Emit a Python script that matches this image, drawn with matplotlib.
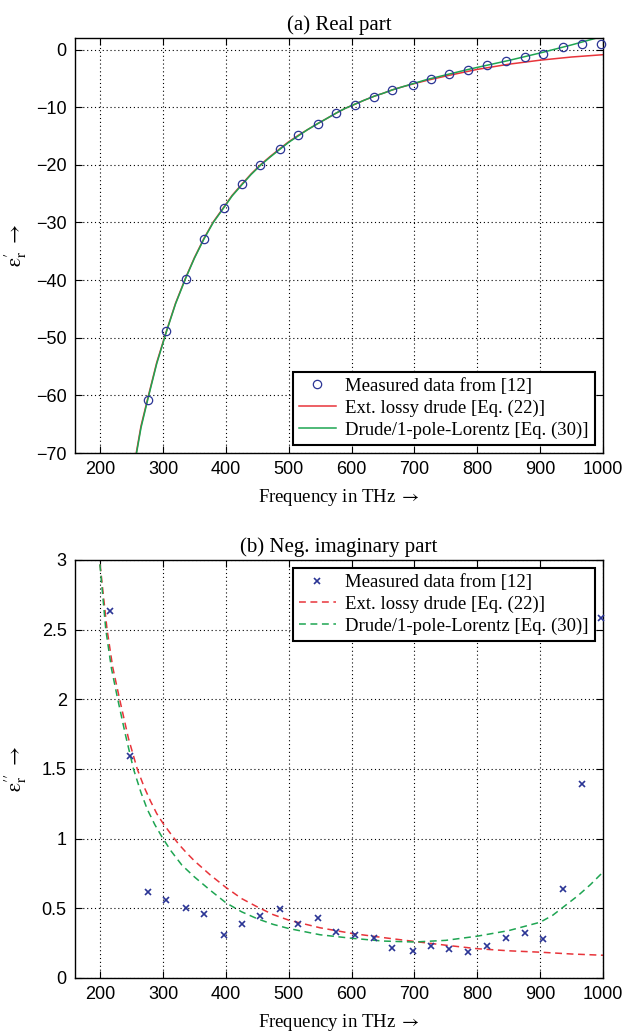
import numpy as np
import matplotlib
matplotlib.use('Agg')
import matplotlib.pyplot as plt

plt.rcParams['font.family'] = ['Liberation Serif', 'DejaVu Serif']
plt.rcParams['mathtext.fontset'] = 'stix'

# measured data (real part)
freq_re = [276, 305, 336, 365, 397, 426, 455, 486, 515, 547, 576, 605, 636,
           665, 697, 726, 755, 786, 815, 846, 876, 905, 937, 966, 997]
eps_re_meas = [-60.8, -48.9, -39.8, -32.8, -27.5, -23.4, -20.1, -17.2, -14.9,
               -12.9, -11.0, -9.6, -8.2, -7.1, -6.1, -5.2, -4.3, -3.5, -2.7,
               -2.0, -1.3, -0.7, 0.5, 0.9, 0.9]

# model curves (real part)
freq_re_drude = [255, 265, 276, 290, 305, 320, 336, 350, 365, 380, 397, 410,
                 426, 440, 455, 470, 486, 500, 515, 530, 547, 560, 576, 590,
                 605, 620, 636, 650, 665, 680, 697, 720, 750, 800, 850, 900,
                 950, 1000]
eps_re_drude = [-71.5, -65.3, -60.4, -54.3, -49.0, -44.0, -39.6, -36.1, -32.8,
                -29.9, -27.3, -25.3, -23.3, -21.6, -20.0, -18.6, -17.2, -16.0,
                -14.9, -13.9, -12.8, -12.0, -11.0, -10.2, -9.5, -8.8, -8.1,
                -7.6, -7.0, -6.5, -6.0, -5.35, -4.6, -3.45, -2.55, -1.85,
                -1.3, -0.9]
freq_re_lor = [255, 265, 276, 290, 305, 320, 336, 350, 365, 380, 397, 410,
               426, 440, 455, 470, 486, 500, 515, 530, 547, 560, 576, 590,
               605, 620, 636, 650, 665, 680, 697, 720, 750, 780, 800, 850,
               900, 950, 1000]
eps_re_lor = [-71.8, -65.6, -60.6, -54.5, -49.1, -44.1, -39.7, -36.2, -32.9,
              -30.0, -27.4, -25.4, -23.4, -21.7, -20.1, -18.7, -17.3, -16.1,
              -15.0, -13.9, -12.8, -12.0, -11.0, -10.2, -9.5, -8.8, -8.1,
              -7.6, -7.0, -6.5, -5.95, -5.2, -4.4, -3.6, -3.1, -1.9, -0.6,
              0.8, 2.3]

# measured data (neg. imaginary part)
freq_im = [215, 247, 276, 305, 336, 365, 397, 426, 455, 486, 515, 547, 576,
           605, 636, 665, 697, 726, 755, 786, 815, 846, 876, 905, 937, 966,
           997]
eps_im_meas = [2.63, 1.59, 0.62, 0.56, 0.50, 0.458, 0.31, 0.387, 0.448, 0.498,
               0.386, 0.43, 0.332, 0.309, 0.287, 0.213, 0.197, 0.228, 0.207,
               0.186, 0.232, 0.284, 0.32, 0.282, 0.635, 1.39, 2.58]

# model curves (neg. imaginary part)
freq_im_drude = [198, 205, 211, 220, 231, 245, 259, 270, 280, 290, 300, 313,
                 325, 337, 350, 375, 400, 425, 450, 475, 500, 550, 600, 650,
                 700, 750, 800, 850, 900, 950, 1000]
eps_im_drude = [3.05, 2.75, 2.5, 2.23, 2.0, 1.72, 1.5, 1.37, 1.27, 1.18, 1.11,
                1.03, 0.96, 0.90, 0.84, 0.74, 0.65, 0.57, 0.51, 0.455, 0.415,
                0.36, 0.32, 0.29, 0.262, 0.235, 0.21, 0.195, 0.185, 0.172,
                0.163]
freq_im_lor = [198, 205, 209, 218, 228, 240, 253, 265, 275, 287, 300, 313,
               330, 350, 375, 400, 425, 450, 475, 500, 550, 600, 650, 700,
               750, 800, 850, 900, 920, 940, 960, 980, 1000]
eps_im_lor = [3.05, 2.7, 2.5, 2.22, 2.0, 1.75, 1.5, 1.33, 1.21, 1.1, 1.0,
              0.91, 0.81, 0.725, 0.63, 0.54, 0.475, 0.425, 0.385, 0.355, 0.31,
              0.285, 0.265, 0.258, 0.27, 0.30, 0.34, 0.40, 0.45, 0.52, 0.59,
              0.67, 0.76]

blue = '#2b3595'
red = '#e8343a'
green = '#1ea552'

fig = plt.figure(figsize=(6.23, 10.35), dpi=100)
ax1 = fig.add_axes([0.1204, 0.5623, 0.8475, 0.401])
ax2 = fig.add_axes([0.1204, 0.0551, 0.8475, 0.4039])


def style_axes(ax):
    ax.set_xlim(160, 1000)
    ax.set_xticks(np.arange(200, 1001, 100))
    ax.grid(True, color='k', linestyle=(0, (1, 2.5)), linewidth=0.8)
    ax.tick_params(direction='in', top=True, right=True, length=5,
                   width=0.8, labelsize=13, pad=6)
    for lab in ax.get_xticklabels() + ax.get_yticklabels():
        lab.set_fontfamily('Liberation Sans')
    for sp in ax.spines.values():
        sp.set_linewidth(1.0)
    ax.set_xlabel('Frequency in THz $\\rightarrow$', fontsize=13.5,
                  labelpad=6)
    ax.yaxis.set_label_coords(-0.088, 0.5)


# (a) real part
ax1.plot(freq_re, eps_re_meas, 'o', mfc='none', mec=blue, ms=6, mew=0.9,
         clip_on=False, zorder=4, label='Measured data from [12]')
ax1.plot(freq_re_drude, eps_re_drude, '-', color=red, lw=1.1,
         label='Ext. lossy drude [Eq. (22)]')
ax1.plot(freq_re_lor, eps_re_lor, '-', color=green, lw=1.1,
         label='Drude/1-pole-Lorentz [Eq. (30)]')
ax1.set_ylim(-70, 2)
ax1.set_yticks(np.arange(-70, 1, 10))
style_axes(ax1)
ax1.set_title('(a) Real part', fontsize=15, pad=6)
ax1.set_ylabel('$\\mathrm{\u03b5}_\\mathrm{r}^{\\prime}\\ \\rightarrow$',
               fontsize=15)
leg1 = ax1.legend(loc='lower right', fontsize=13.5, frameon=True,
                  fancybox=False, edgecolor='k', framealpha=1,
                  handlelength=2.0, handletextpad=0.5, borderpad=0.3,
                  borderaxespad=0.45, labelspacing=0.25)
leg1.get_frame().set_linewidth(1.5)

# (b) neg. imaginary part
ax2.plot(freq_im, eps_im_meas, 'x', color=blue, ms=4.5, mew=1.2,
         clip_on=False, zorder=4, label='Measured data from [12]')
ax2.plot(freq_im_drude, eps_im_drude, '--', color=red, lw=1.1,
         dashes=(4.5, 3), label='Ext. lossy drude [Eq. (22)]')
ax2.plot(freq_im_lor, eps_im_lor, '--', color=green, lw=1.1,
         dashes=(4.5, 3), label='Drude/1-pole-Lorentz [Eq. (30)]')
ax2.set_ylim(0, 3)
ax2.set_yticks(np.arange(0, 3.01, 0.5))
ax2.set_yticklabels(['0', '0.5', '1', '1.5', '2', '2.5', '3'])
style_axes(ax2)
ax2.set_title('(b) Neg. imaginary part', fontsize=15, pad=6)
ax2.set_ylabel('$\\mathrm{\u03b5}_\\mathrm{r}^{\\prime\\prime}\\ \\rightarrow$',
               fontsize=15)
leg2 = ax2.legend(loc='upper right', fontsize=13.5, frameon=True,
                  fancybox=False, edgecolor='k', framealpha=1,
                  handlelength=2.0, handletextpad=0.5, borderpad=0.3,
                  borderaxespad=0.45, labelspacing=0.25)
leg2.get_frame().set_linewidth(1.5)

plt.savefig('out.png', dpi=100)
